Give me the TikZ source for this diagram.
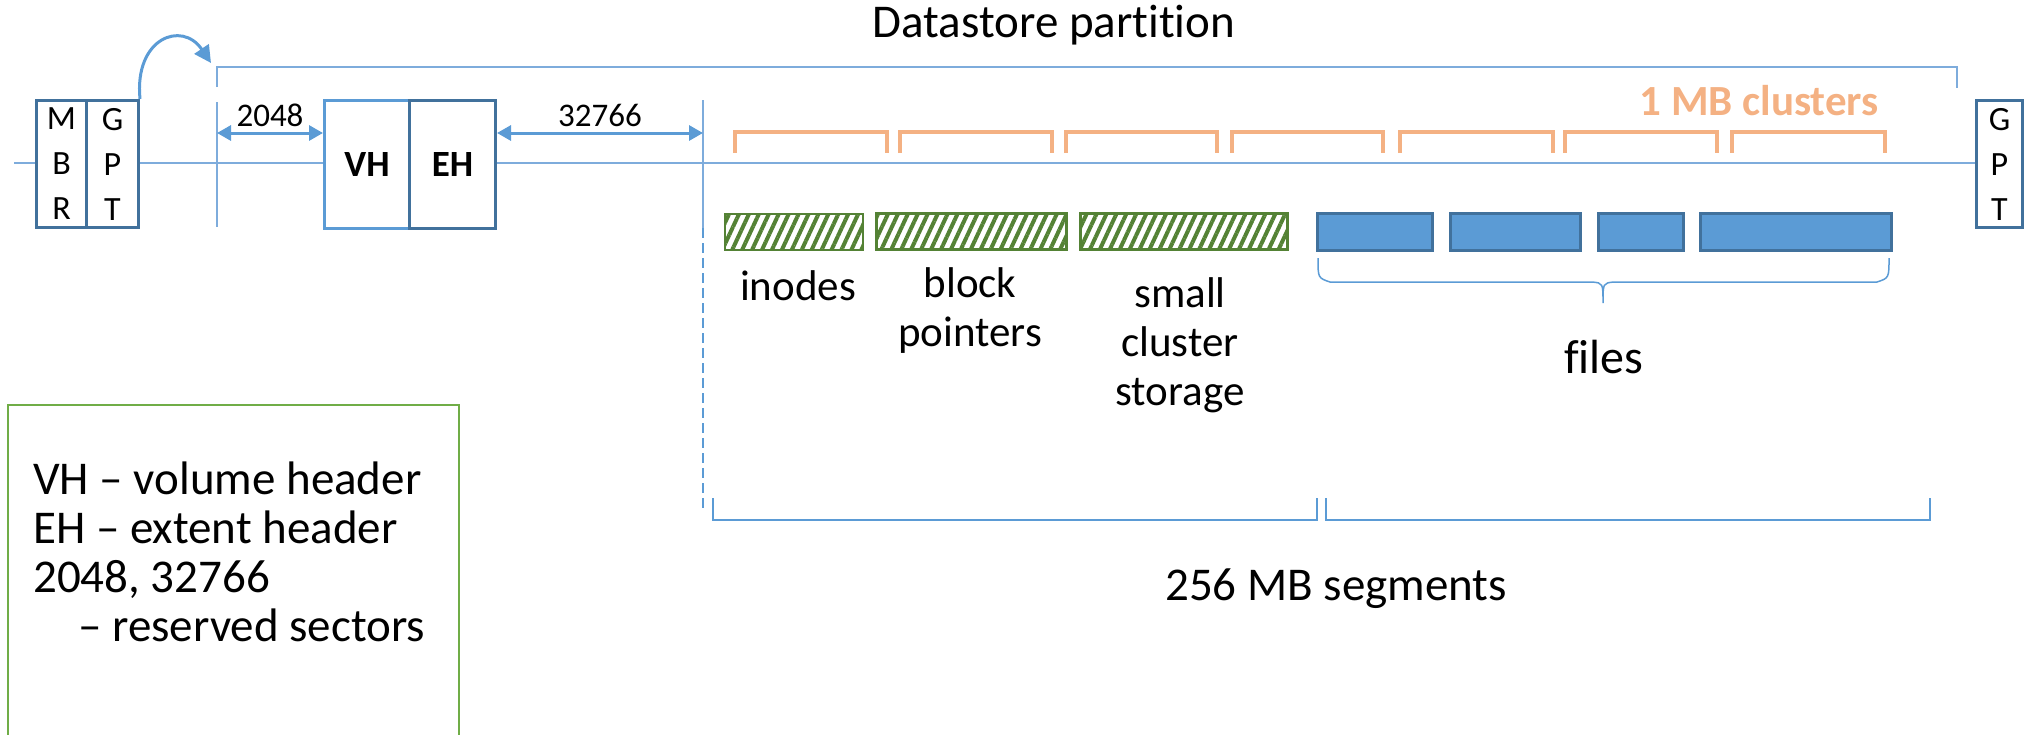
\documentclass[tikz,border=0pt]{standalone}
\usepackage{fontspec}
\setmainfont[Ligatures=NoCommon]{Carlito}
\usetikzlibrary{arrows.meta,patterns.meta,calc}
\definecolor{lblue}{HTML}{5B9BD5}
\definecolor{mblue}{HTML}{7EACDC}
\definecolor{dblue}{HTML}{41719C}
\definecolor{orng}{HTML}{F4B183}
\definecolor{hgreen}{HTML}{548235}
\definecolor{lgreen}{HTML}{70AD47}
\begin{document}
\begin{tikzpicture}[x=1pt,y=-1pt,
  thinline/.style={draw=mblue,line width=2pt},
  secbox/.style={draw=dblue,line width=3pt,fill=white,inner sep=0pt,anchor=north west,align=center,font=\fontsize{34}{45}\selectfont},
  hdrbox/.style={line width=3pt,fill=white,inner sep=0pt,anchor=north west,font=\fontsize{37}{44}\selectfont\bfseries},
  hatchbox/.style={draw=hgreen,line width=2.5pt,pattern={Lines[angle=65,distance=9pt,line width=4pt]},pattern color=hgreen},
  filebox/.style={draw=dblue,line width=2.5pt,fill=lblue},
  dimarrow/.style={draw=lblue,line width=3pt,{Triangle[length=14pt,width=15pt]}-{Triangle[length=14pt,width=15pt]}},
  dimlbl/.style={midway,above=5pt,font=\fontsize{33}{40}\selectfont,inner sep=0pt},
  clusterbr/.style={draw=orng,line width=4pt},
  lbl/.style={font=\fontsize{43}{49}\selectfont,align=center,inner sep=0pt},
  bigtxt/.style={font=\fontsize{47}{56}\selectfont,inner sep=0pt}
]
\useasboundingbox (0,0) rectangle (2028,734);

% main horizontal line
\coordinate (lineL) at (14,163);
\coordinate (lineR) at (1975,163);
\draw[thinline] (lineL) -- (lineR);

% title and partition bracket
\node[bigtxt] (title) at (1054,25) {Datastore partition};
\coordinate (pbl) at (217,87);
\coordinate (pbr) at (1957,88);
\draw[thinline] (pbl) -- (217,67) -- (1957,67) -- (pbr);

% MBR / GPT
\node[secbox,minimum width=50pt,minimum height=127pt] (mbr) at (35,99) {M\\B\\R};
\node[secbox,minimum width=52pt,minimum height=127pt] (gpt) at (85,99) {G\\P\\T};
\node[secbox,minimum width=46pt,minimum height=127pt] (gpt2) at (1975,99) {G\\P\\T};

% curved arrow from GPT to partition
\coordinate (ctip) at (211,63);
\draw[draw=lblue,line width=3pt,-{Triangle[length=17pt,width=17pt]}] (gpt.north east) .. controls (134,38) and (182,20) .. (ctip);

% partition start line
\coordinate (ps) at (217,102);
\coordinate (psb) at (217,227);
\draw[thinline] (ps) -- (psb);

% VH / EH
\node[hdrbox,draw=lblue,minimum width=85pt,minimum height=128pt] (vh) at (323,99) {VH};
\node[hdrbox,draw=dblue,minimum width=86pt,minimum height=128pt] (eh) at (408,99) {EH};

% end of reserved area
\coordinate (rs) at (703,100);
\coordinate (rsm) at (703,228);
\coordinate (rsb) at (703,512);
\draw[thinline] (rs) -- (rsm);
\draw[draw=lblue,line width=1.5pt,dash pattern=on 10pt off 5pt] (rsm) -- (rsb);

% dimension arrows
\coordinate (a1) at (217,133);
\coordinate (a2) at (703,133);
\draw[dimarrow] (a1) -- (vh.west |- a1) node[dimlbl] (n2048) {2048};
\draw[dimarrow] (eh.east |- a2) -- (a2) node[dimlbl] (n32766) {32766};

% 1 MB clusters
\foreach \a/\b [count=\i] in {735/887,900/1052,1066/1217,1232/1383,1400/1553,1565/1717,1732/1885}{
  \coordinate (cl\i) at (\a,153);
  \coordinate (cr\i) at (\b,153);
  \draw[clusterbr] (cl\i) -- (\a,132) -- (\b,132) -- (cr\i);
}
\node[font=\fontsize{43}{50}\selectfont\bfseries,text=orng,anchor=east,inner sep=0pt] (clusters) at (1879,101) {1 MB clusters};

% metadata (hatched)
\node[hatchbox,minimum width=138pt,minimum height=36pt,anchor=north west,inner sep=0pt] (inodes) at (723,212) {};
\node[hatchbox,minimum width=190pt,minimum height=36pt,anchor=north west,inner sep=0pt] (bp) at (875,212) {};
\node[hatchbox,minimum width=207pt,minimum height=36pt,anchor=north west,inner sep=0pt] (scs) at (1079,212) {};

\node[lbl] (tin) at (798,286) {inodes};
\node[lbl] (tbp) at (970,311) {block\\pointers};
\node[lbl] (tsc) at (1180,345) {small\\cluster\\storage};

% files
\node[filebox,minimum width=115pt,minimum height=37pt,anchor=north west,inner sep=0pt] (f1) at (1316,212) {};
\node[filebox,minimum width=130pt,minimum height=37pt,anchor=north west,inner sep=0pt] (f2) at (1449,212) {};
\node[filebox,minimum width=85pt,minimum height=37pt,anchor=north west,inner sep=0pt] (f3) at (1597,212) {};
\node[filebox,minimum width=191pt,minimum height=37pt,anchor=north west,inner sep=0pt] (f4) at (1699,212) {};

\coordinate (fbl) at (1318,258);
\coordinate (fbr) at (1889,258);
\coordinate (fbt) at (1603,303);
\draw[draw=lblue,line width=1.5pt] (fbl) .. controls (1318,278) .. (1330,282) -- (1592,282) .. controls (1603,283) .. (fbt)
  .. controls (1603,283) .. (1614,282) -- (1877,282) .. controls (1889,278) .. (fbr);
\node[font=\fontsize{48}{56}\selectfont,inner sep=0pt] (files) at (1604,357) {files};

% 256 MB segments
\coordinate (s1a) at (713,498);
\coordinate (s1b) at (1317,498);
\coordinate (s2a) at (1326,498);
\coordinate (s2b) at (1930,498);
\draw[draw=lblue,line width=1.5pt] (s1a) -- (713,520) -- (1317,520) -- (s1b);
\draw[draw=lblue,line width=1.5pt] (s2a) -- (1326,520) -- (1930,520) -- (s2b);
\node[bigtxt] (seg) at (1336,589) {256 MB segments};

% legend
\draw[draw=lgreen,line width=2.5pt] (8,740) -- (8,405) -- (459,405) -- (459,740);
\node[font=\fontsize{47}{49}\selectfont,align=left,anchor=north west,inner sep=0pt] (legend) at (33,462)
  {VH -- volume header\\EH -- extent header\\2048, 32766\\\hspace*{45pt}-- reserved sectors};
\end{tikzpicture}
\end{document}
